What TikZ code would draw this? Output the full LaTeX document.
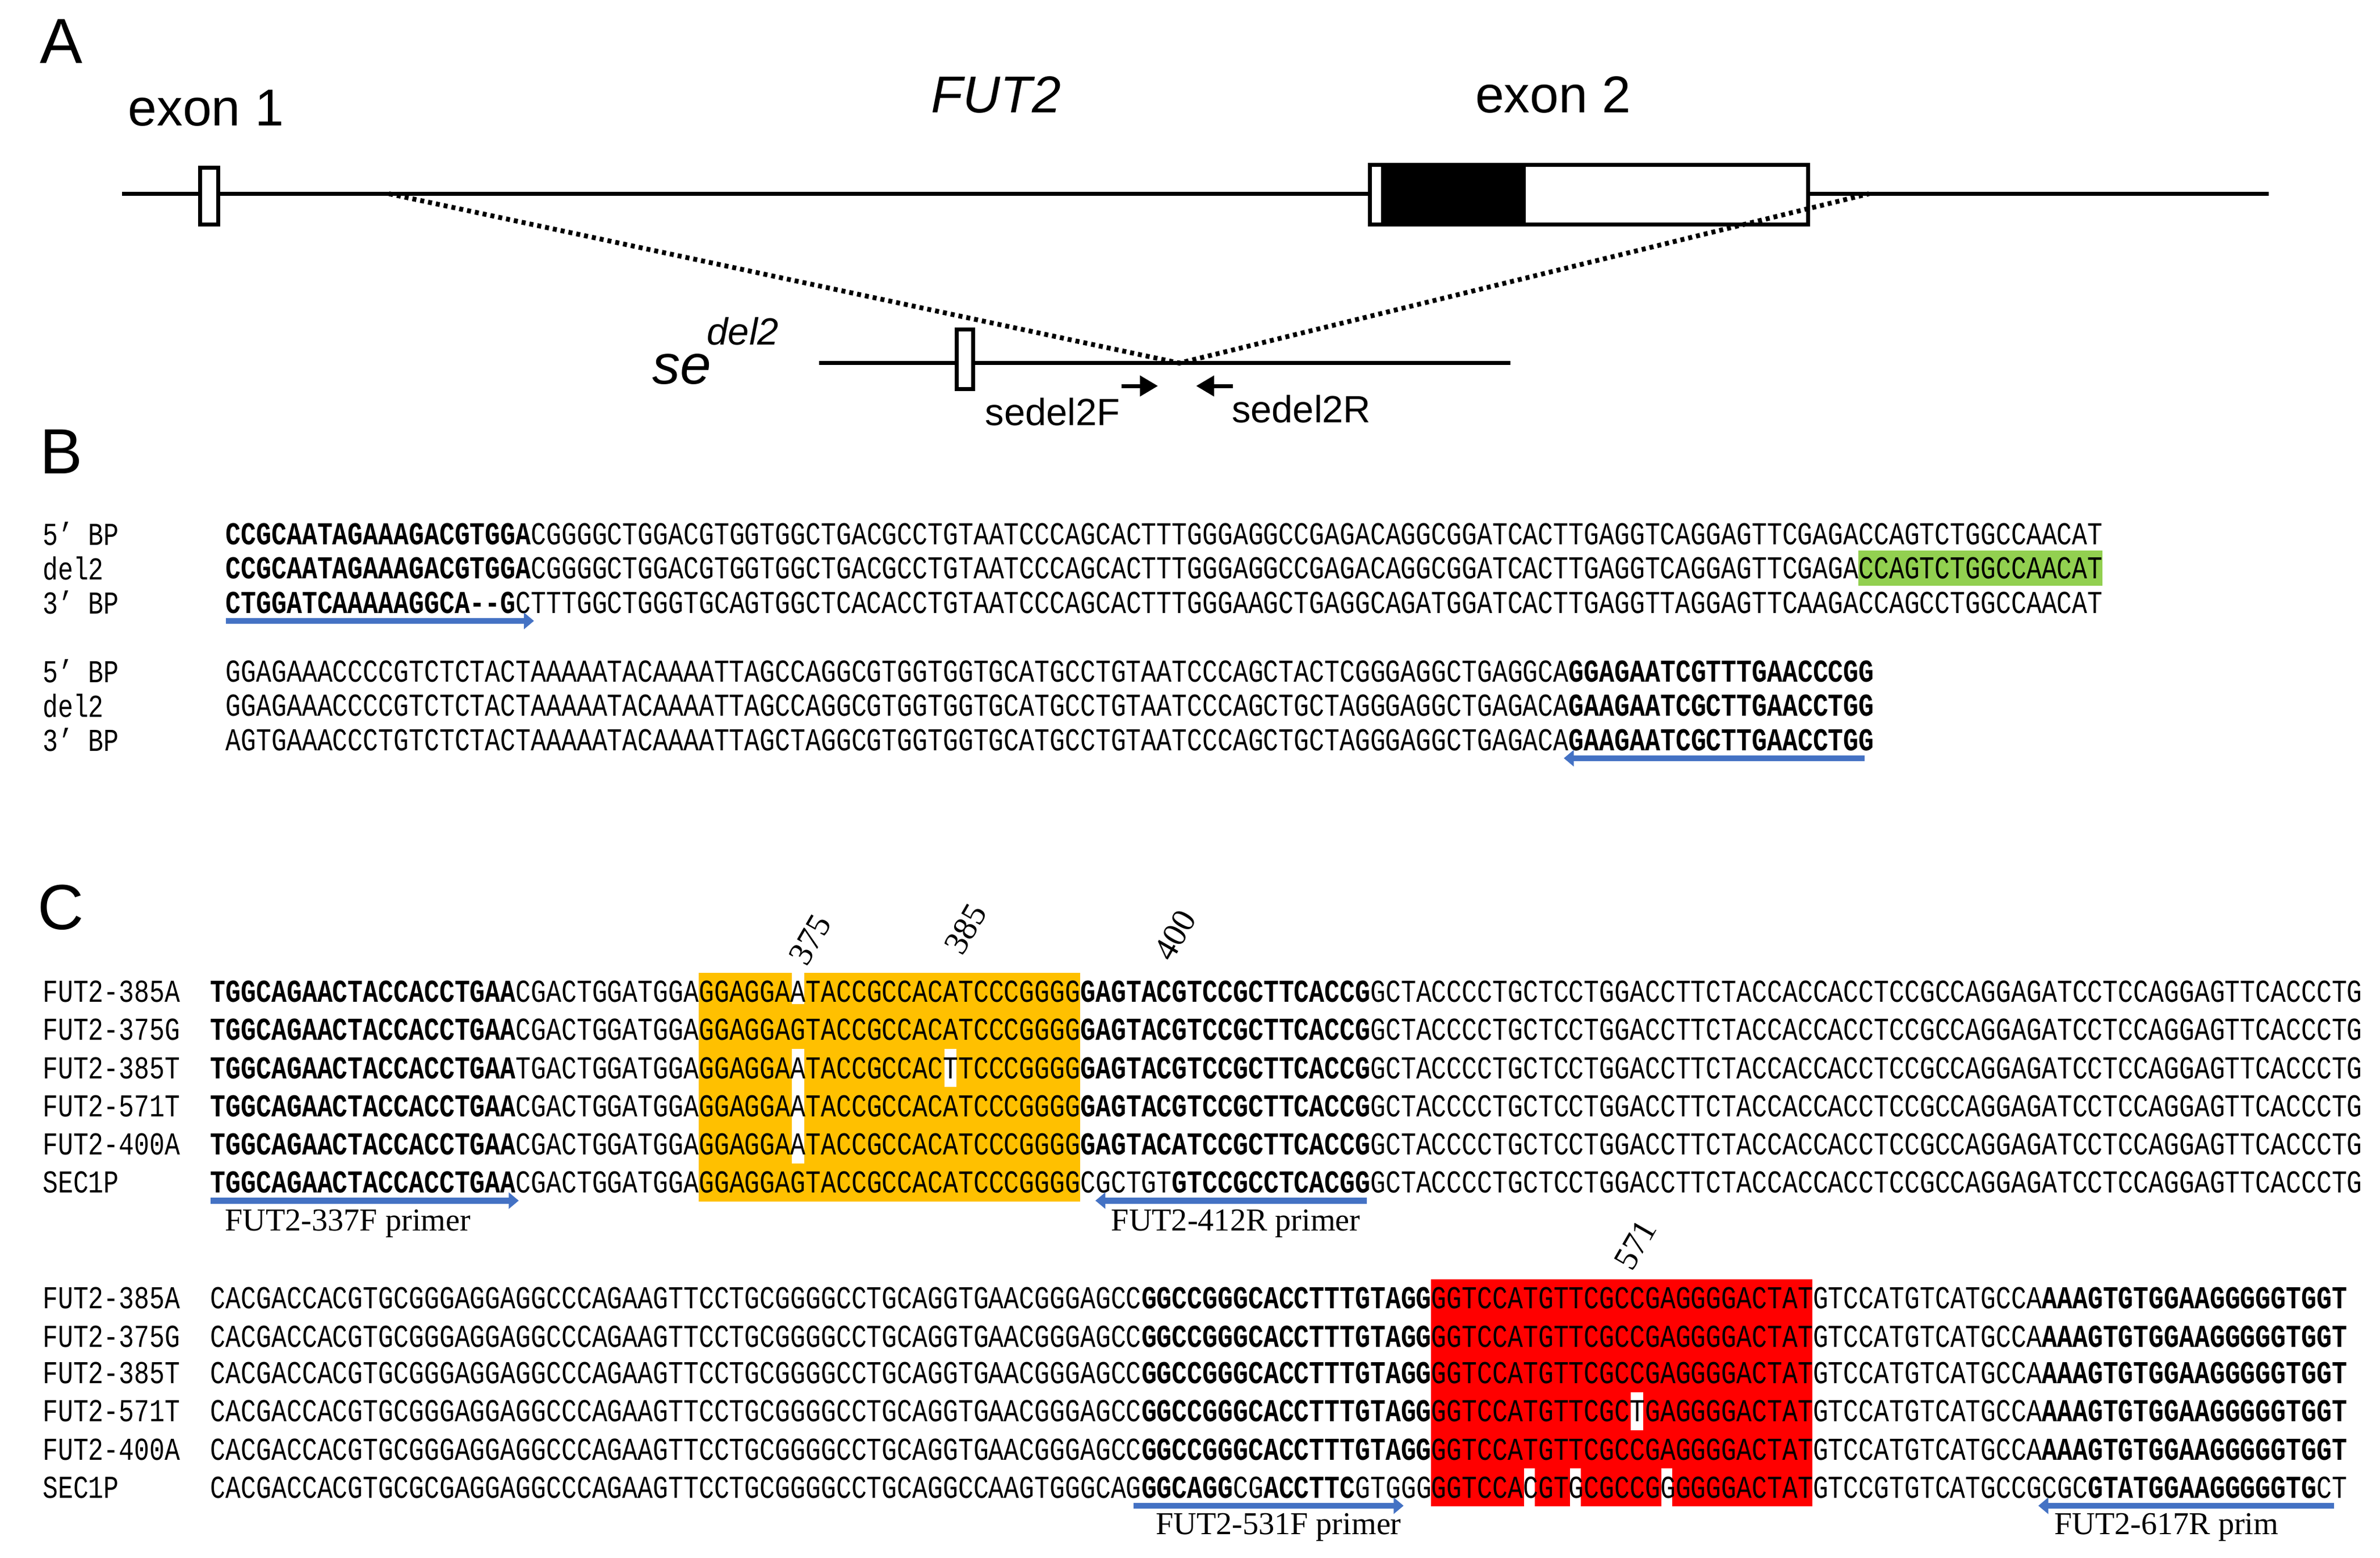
\documentclass[tikz,border=0pt]{standalone}
\usepackage{fontspec}
\usetikzlibrary{arrows.meta}
\setmainfont{Liberation Sans}
\newfontfamily\seqfont{Liberation Mono}
\newfontfamily\serfont{Liberation Serif}
\newcommand\sq[1]{\scalebox{0.797}[1]{\seqfont\fontsize{16}{16}\selectfont #1}}
\definecolor{yel}{RGB}{255,192,0}
\definecolor{grn}{RGB}{146,208,80}
\definecolor{bluar}{RGB}{68,114,196}
\tikzset{
  seq/.style={anchor=west,inner sep=0pt,outer sep=0pt},
  big/.style={font=\fontsize{32}{32}\selectfont,inner sep=0pt},
  lab/.style={font=\fontsize{26}{26}\selectfont,inner sep=0pt},
  prim/.style={font=\serfont\fontsize{16}{16}\selectfont,inner sep=0pt},
  num/.style={font=\serfont\fontsize{17}{17}\selectfont,inner sep=0pt,rotate=60},
  bar/.style={draw=bluar,line width=3pt,-{Triangle[length=5pt,width=8pt]}},
  gene/.style={line width=2pt},
}
\begin{document}
\begin{tikzpicture}[x=0.02688cm,y=-0.02688cm]
\useasboundingbox (0,0) rectangle (1560,1021.2);
% ---------- Panel A
\node[big] (pA) at (40,27) {A};
\node[lab] (ex1) at (135,71) {exon 1};
\node[lab,font=\itshape\fontsize{26}{26}\selectfont] (fut) at (653,62) {FUT2};
\node[lab] (ex2) at (1018,62) {exon 2};
\coordinate (m1) at (80,127); \coordinate (m2) at (1487,127);
\draw[gene] (m1) -- (m2);
\node[draw,gene,fill=white,minimum width=12*0.02688cm,minimum height=37*0.02688cm,inner sep=0] (e1) at (137,128.5) {};
\fill[white] (898,108) rectangle (1185,147);
\fill[black] (905,108) rectangle (1000,147);
\node[draw,gene,minimum width=287*0.02688cm,minimum height=39*0.02688cm,inner sep=0] (e2) at (1041.5,127.5) {};
\coordinate (d1) at (255,127); \coordinate (d2) at (1225,127); \coordinate (j) at (773,238);
\draw[gene,dotted,line width=2.4pt] (d1) -- (j) -- (d2);
\coordinate (b1) at (537,238); \coordinate (b2) at (990,238);
\draw[gene] (b1) -- (b2);
\node[draw,gene,fill=white,minimum width=11*0.02688cm,minimum height=39*0.02688cm,inner sep=0] (e1b) at (632.5,235.5) {};
\node[font=\itshape\fontsize{28}{28}\selectfont,inner sep=0] (se) at (447,242) {se};
\node[font=\itshape\fontsize{19}{19}\selectfont,inner sep=0] (del) at (487,217) {del2};
\coordinate (fa1) at (735,253); \coordinate (fa2) at (759,253);
\coordinate (ra1) at (808,253); \coordinate (ra2) at (784,253);
\draw[line width=2pt,-{Triangle[length=9pt,width=10pt]}] (fa1) -- (fa2);
\draw[line width=2pt,-{Triangle[length=9pt,width=10pt]}] (ra1) -- (ra2);
\node[font=\fontsize{19}{19}\selectfont,inner sep=0] (fl) at (690,270) {sedel2F};
\node[font=\fontsize{19}{19}\selectfont,inner sep=0] (rl) at (853,268) {sedel2R};
% ---------- Panel B
\node[big] (pB) at (40,296) {B};
\fill[grn] (1218,361) rectangle (1378,384);
\node[seq] (b11l) at (28,350) {\sq{5’ BP}};
\node[seq] (b12l) at (28,372.5) {\sq{del2}};
\node[seq] (b13l) at (28,395) {\sq{3’ BP}};
\node[seq] (b11) at (148,350) {\sq{\textbf{CCGCAATAGAAAGACGTGGA}CGGGGCTGGACGTGGTGGCTGACGCCTGTAATCCCAGCACTTTGGGAGGCCGAGACAGGCGGATCACTTGAGGTCAGGAGTTCGAGACCAGTCTGGCCAACAT}};
\node[seq] (b12) at (148,372.5) {\sq{\textbf{CCGCAATAGAAAGACGTGGA}CGGGGCTGGACGTGGTGGCTGACGCCTGTAATCCCAGCACTTTGGGAGGCCGAGACAGGCGGATCACTTGAGGTCAGGAGTTCGAGACCAGTCTGGCCAACAT}};
\node[seq] (b13) at (148,395) {\sq{\textbf{CTGGATCAAAAAGGCA--G}CTTTGGCTGGGTGCAGTGGCTCACACCTGTAATCCCAGCACTTTGGGAAGCTGAGGCAGATGGATCACTTGAGGTTAGGAGTTCAAGACCAGCCTGGCCAACAT}};
\node[seq] (b21l) at (28,440) {\sq{5’ BP}};
\node[seq] (b22l) at (28,462.5) {\sq{del2}};
\node[seq] (b23l) at (28,485) {\sq{3’ BP}};
\node[seq] (b21) at (148,440) {\sq{GGAGAAACCCCGTCTCTACTAAAAATACAAAATTAGCCAGGCGTGGTGGTGCATGCCTGTAATCCCAGCTACTCGGGAGGCTGAGGCA\textbf{GGAGAATCGTTTGAACCCGG}}};
\node[seq] (b22) at (148,462.5) {\sq{GGAGAAACCCCGTCTCTACTAAAAATACAAAATTAGCCAGGCGTGGTGGTGCATGCCTGTAATCCCAGCTGCTAGGGAGGCTGAGACA\textbf{GAAGAATCGCTTGAACCTGG}}};
\node[seq] (b23) at (148,485) {\sq{AGTGAAACCCTGTCTCTACTAAAAATACAAAATTAGCTAGGCGTGGTGGTGCATGCCTGTAATCCCAGCTGCTAGGGAGGCTGAGACA\textbf{GAAGAATCGCTTGAACCTGG}}};
\coordinate (pb1) at (148,407); \coordinate (pb2) at (350,407);
\coordinate (pb3) at (1222,497); \coordinate (pb4) at (1025,497);
\draw[bar] (pb1) -- (pb2);
\draw[bar] (pb3) -- (pb4);
% ---------- Panel C
\node[big] (pC) at (40,595) {C};
\fill[yel] (458,637.5) rectangle (708,787.5);
\fill[white] (519,637.5) rectangle (527,658);
\fill[white] (519,687.5) rectangle (527,762.5);
\fill[white] (619,687.5) rectangle (627,712.5);
\node[num] (n375) at (531,616) {375};
\node[num] (n385) at (633,609) {385};
\node[num] (n400) at (770,613) {400};
\foreach \l/\yy in {FUT2-385A/650,FUT2-375G/675,FUT2-385T/700,FUT2-571T/725,FUT2-400A/750,SEC1P/775}
  \node[seq] (L\l) at (28,\yy) {\sq{\l}};
\node[seq] (c1) at (138,650) {\sq{\textbf{TGGCAGAACTACCACCTGAA}CGACTGGATGGAGGAGGAATACCGCCACATCCCGGGG\textbf{GAGTACGTCCGCTTCACCG}GCTACCCCTGCTCCTGGACCTTCTACCACCACCTCCGCCAGGAGATCCTCCAGGAGTTCACCCTG}};
\node[seq] (c2) at (138,675) {\sq{\textbf{TGGCAGAACTACCACCTGAA}CGACTGGATGGAGGAGGAGTACCGCCACATCCCGGGG\textbf{GAGTACGTCCGCTTCACCG}GCTACCCCTGCTCCTGGACCTTCTACCACCACCTCCGCCAGGAGATCCTCCAGGAGTTCACCCTG}};
\node[seq] (c3) at (138,700) {\sq{\textbf{TGGCAGAACTACCACCTGAA}TGACTGGATGGAGGAGGAATACCGCCACTTCCCGGGG\textbf{GAGTACGTCCGCTTCACCG}GCTACCCCTGCTCCTGGACCTTCTACCACCACCTCCGCCAGGAGATCCTCCAGGAGTTCACCCTG}};
\node[seq] (c4) at (138,725) {\sq{\textbf{TGGCAGAACTACCACCTGAA}CGACTGGATGGAGGAGGAATACCGCCACATCCCGGGG\textbf{GAGTACGTCCGCTTCACCG}GCTACCCCTGCTCCTGGACCTTCTACCACCACCTCCGCCAGGAGATCCTCCAGGAGTTCACCCTG}};
\node[seq] (c5) at (138,750) {\sq{\textbf{TGGCAGAACTACCACCTGAA}CGACTGGATGGAGGAGGAATACCGCCACATCCCGGGG\textbf{GAGTACATCCGCTTCACCG}GCTACCCCTGCTCCTGGACCTTCTACCACCACCTCCGCCAGGAGATCCTCCAGGAGTTCACCCTG}};
\node[seq] (c6) at (138,775) {\sq{\textbf{TGGCAGAACTACCACCTGAA}CGACTGGATGGAGGAGGAGTACCGCCACATCCCGGGGCGCTGT\textbf{GTCCGCCTCACGG}GCTACCCCTGCTCCTGGACCTTCTACCACCACCTCCGCCAGGAGATCCTCCAGGAGTTCACCCTG}};
\coordinate (pc1) at (138,787); \coordinate (pc2) at (340,787);
\coordinate (pc3) at (896,787); \coordinate (pc4) at (718,787);
\draw[bar] (pc1) -- (pc2);
\draw[bar] (pc3) -- (pc4);
\node[prim] (p337) at (228,802) {FUT2-337F primer};
\node[prim] (p412) at (810,802) {FUT2-412R primer};
% block 2
\fill[red] (938,838.5) rectangle (1188,987.5);
\fill[white] (1069,912.5) rectangle (1077,937.5);
\fill[white] (999,962.5) rectangle (1006,987.5);
\fill[white] (1029,962.5) rectangle (1036,987.5);
\fill[white] (1089,962.5) rectangle (1096,987.5);
\node[num] (n571) at (1072,816) {571};
\foreach \l/\yy in {FUT2-385A/851,FUT2-375G/876,FUT2-385T/900,FUT2-571T/925,FUT2-400A/950,SEC1P/975}
  \node[seq] (M\l) at (28,\yy) {\sq{\l}};
\foreach \n/\yy in {d1/851,d2/876,d3/900,d5/950}
  \node[seq] (\n) at (138,\yy) {\sq{CACGACCACGTGCGGGAGGAGGCCCAGAAGTTCCTGCGGGGCCTGCAGGTGAACGGGAGCC\textbf{GGCCGGGCACCTTTGTAGG}GGTCCATGTTCGCCGAGGGGACTATGTCCATGTCATGCCA\textbf{AAAGTGTGGAAGGGGGTGGT}}};
\node[seq] (d4) at (138,925) {\sq{CACGACCACGTGCGGGAGGAGGCCCAGAAGTTCCTGCGGGGCCTGCAGGTGAACGGGAGCC\textbf{GGCCGGGCACCTTTGTAGG}GGTCCATGTTCGCTGAGGGGACTATGTCCATGTCATGCCA\textbf{AAAGTGTGGAAGGGGGTGGT}}};
\node[seq] (d6) at (138,975) {\sq{CACGACCACGTGCGCGAGGAGGCCCAGAAGTTCCTGCGGGGCCTGCAGGCCAAGTGGGCAG\textbf{GGCAGG}CG\textbf{ACCTTC}GTGGGGGTCCACGTGCGCCGGGGGGACTATGTCCGTGTCATGCCGCGC\textbf{GTATGGAAGGGGGTG}CT}};
\coordinate (pd1) at (743,987); \coordinate (pd2) at (920,987);
\coordinate (pd3) at (1530,987); \coordinate (pd4) at (1336,987);
\draw[bar] (pd1) -- (pd2);
\draw[bar] (pd3) -- (pd4);
\node[prim] (p531) at (838,1001) {FUT2-531F primer};
\node[prim] (p617) at (1420,1001) {FUT2-617R prim};
\end{tikzpicture}
\end{document}
